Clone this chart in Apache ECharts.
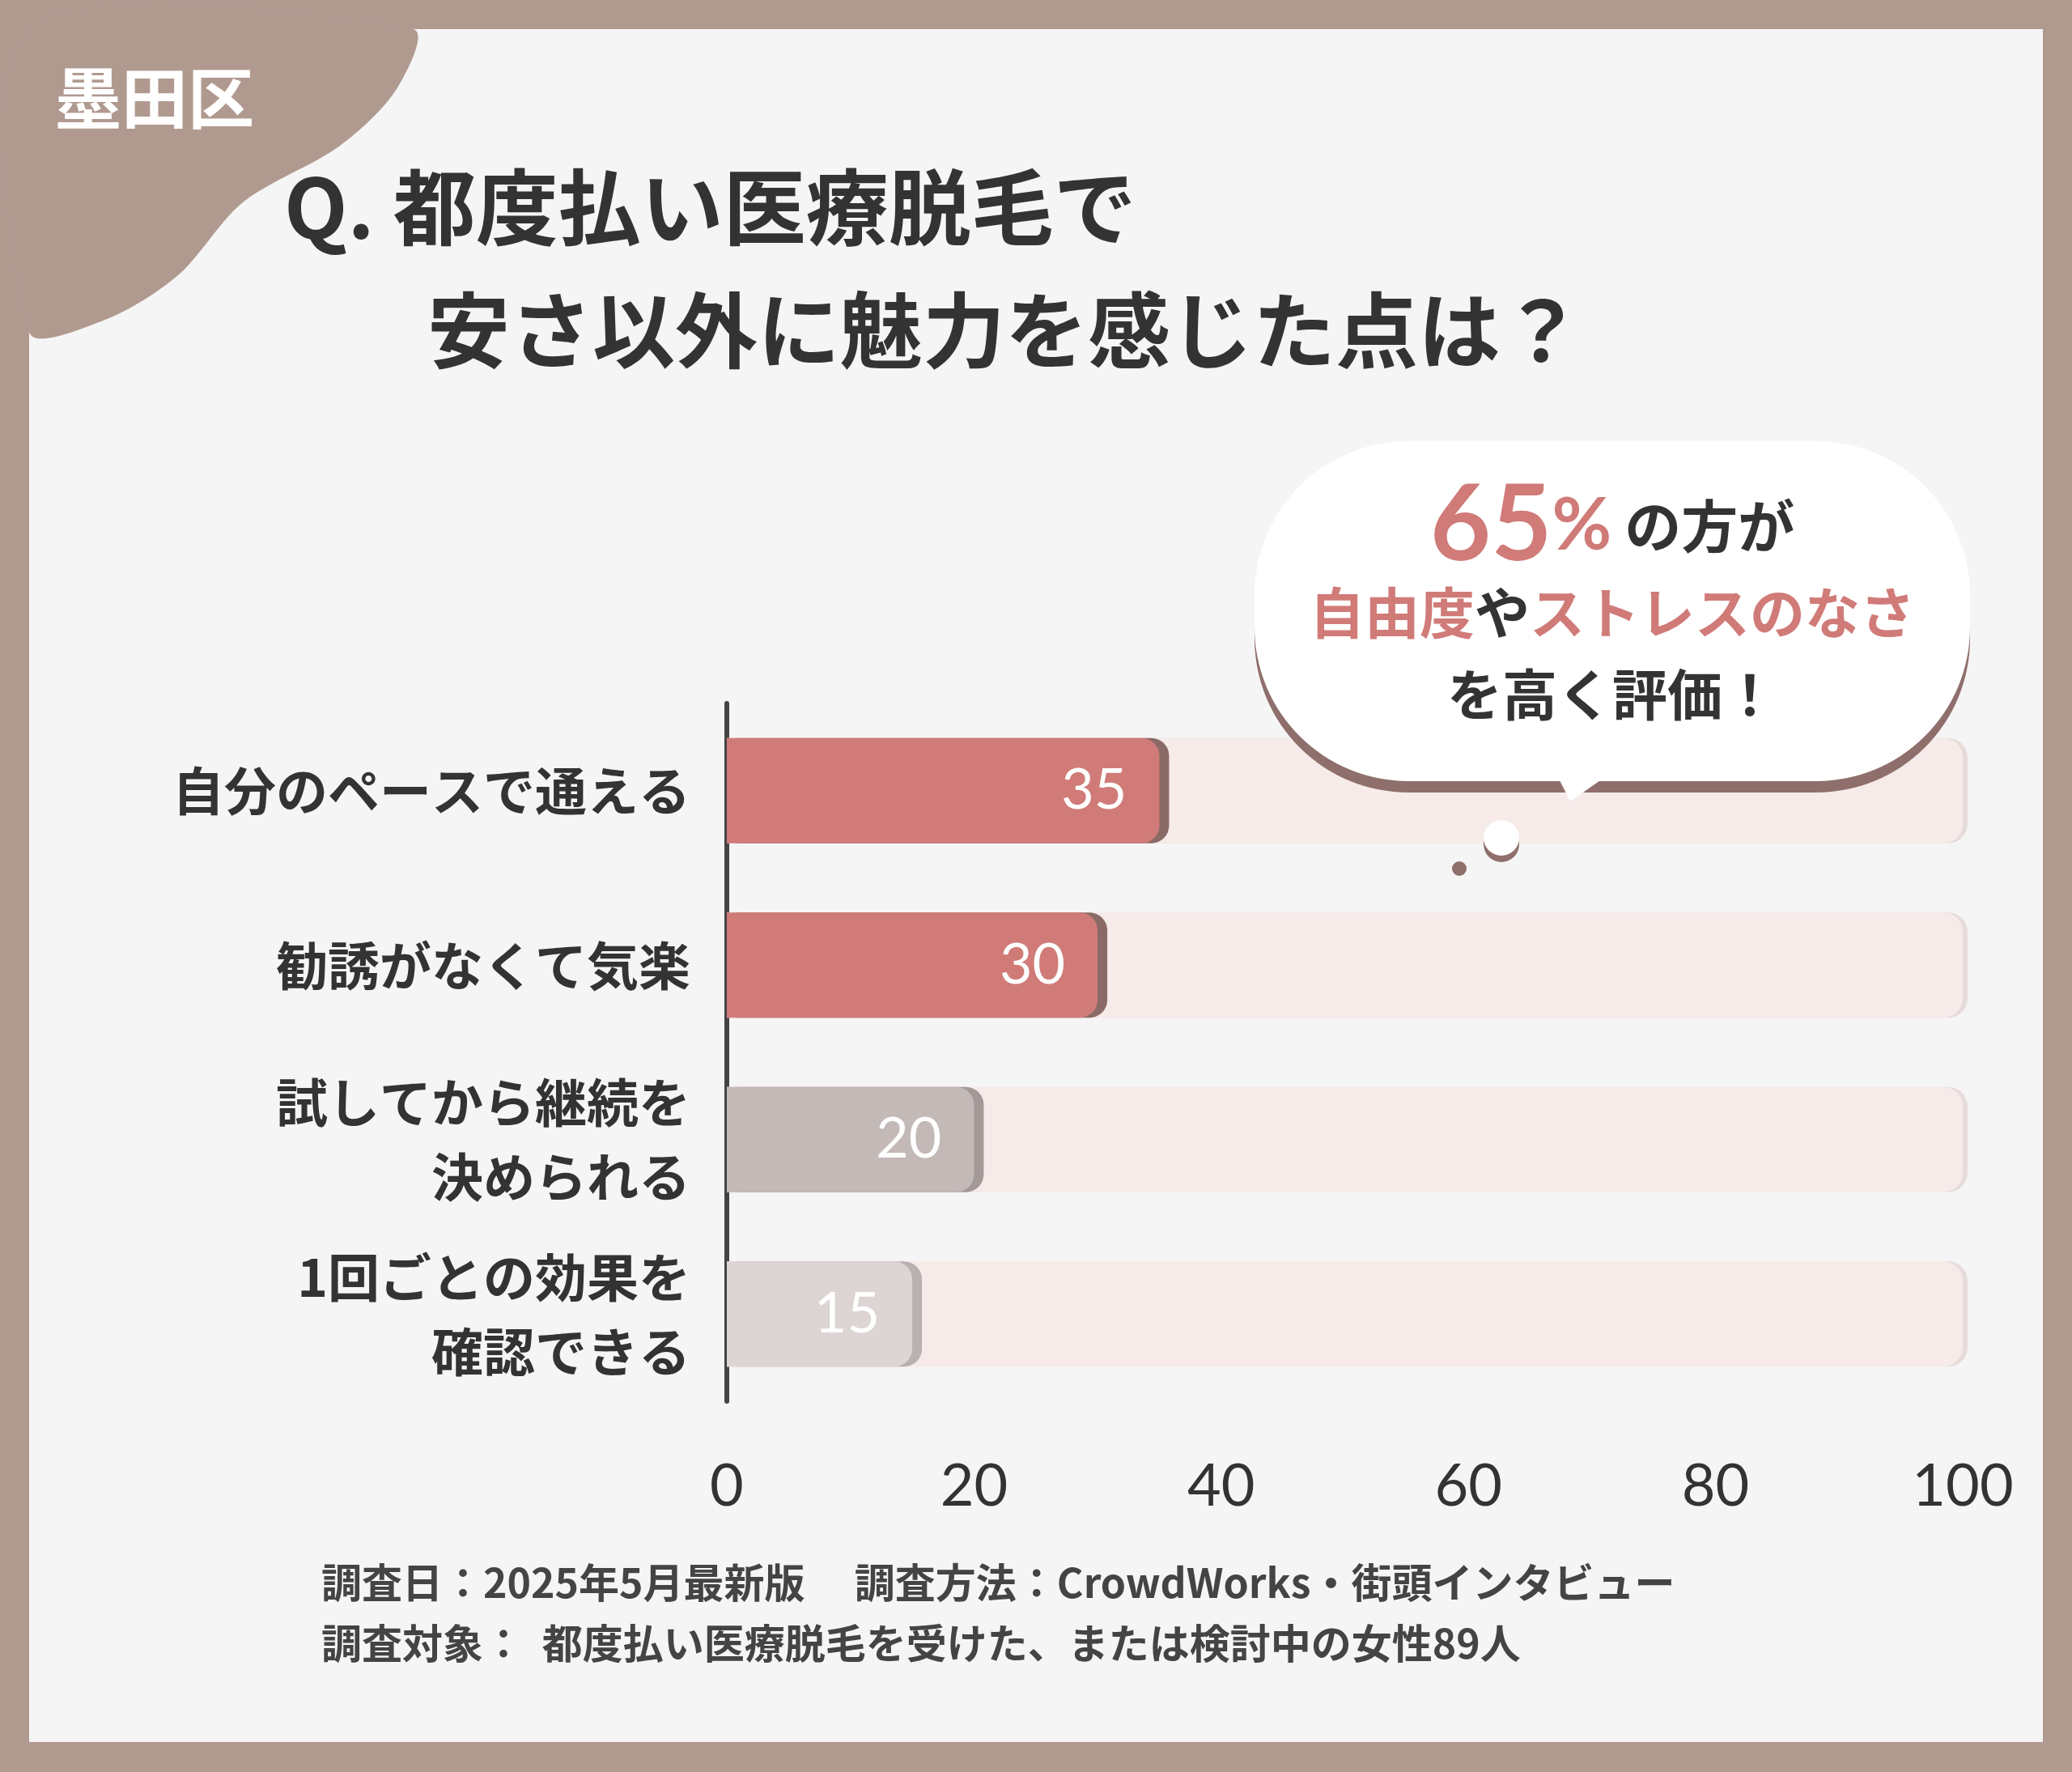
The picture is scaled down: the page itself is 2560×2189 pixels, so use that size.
<!DOCTYPE html>
<html><head><meta charset="utf-8">
<script src="https://cdn.jsdelivr.net/npm/echarts@6/dist/echarts.min.js"></script>
<style>html,body{margin:0;padding:0;background:#b09a90}#c{width:2560px;height:2189px}</style>
</head><body><div id="c"></div>
<script>
const categories = ['自分のペースで通える','勧誘がなくて気楽','試してから継続を\n決められる','1回ごとの効果を\n確認できる'];
const values = [35, 30, 20, 15];
const barColors = ['#d07b78','#d07b78','#c3b9b7','#dcd5d4'];
const edgeColors = ['#8a6a66','#8a6a66','#a39a98','#b9b1b0'];
const axisMax = 100;
const F = '"Noto Sans CJK JP", sans-serif';
const chart = echarts.init(document.getElementById('c'));
chart.setOption({
  backgroundColor: '#b09a90',
  grid: {left: 898, right: 135, top: 869, height: 862},
  xAxis: {type:'value', min:0, max:axisMax, interval:20, position:'bottom',
    axisLine:{show:false}, axisTick:{show:false}, splitLine:{show:false},
    axisLabel:{fontSize:72, color:'#333', fontFamily:'Lato, sans-serif', margin:70}},
  yAxis: {type:'category', data:categories, inverse:true,
    axisLine:{show:true, lineStyle:{color:'#444', width:6}}, axisTick:{show:false},
    axisLabel:{fontSize:64, color:'#333', fontFamily:F, margin:45, lineHeight:92, fontWeight:'bold'}},
  graphic: [
    {type:'rect', shape:{x:36,y:36,width:2488,height:2116}, style:{fill:'#f6f5f5'}, z:-10},
    {type:'polygon', shape:{points:[[36,36],[510,36],[490,110],[420,180],[300,250],[220,340],[130,395],[36,410]], smooth:0.3}, style:{fill:'#b09a90'}, z:-5},
    {type:'text', left:68, top:80, style:{text:'墨田区', fill:'#fff', font:'bold 82px '+F}},
    {type:'text', left:351, top:205, style:{text:'Q. 都度払い医療脱毛で', fill:'#333', font:'bold 102px '+F, letterSpacing:8}},
    {type:'text', left:528, top:357, style:{text:'安さ以外に魅力を感じた点は？', fill:'#333', font:'bold 102px '+F, letterSpacing:14}},
    {type:'rect', shape:{x:1550,y:545,width:884,height:420,r:190}, style:{fill:'#fff', shadowBlur:0, shadowOffsetY:14, shadowColor:'#8f6f6b'}, z:50},
    {type:'polygon', shape:{points:[[1920,950],[1940,990],[1990,955]]}, style:{fill:'#fff'}, z:51},
    {type:'circle', shape:{cx:1855,cy:1035,r:22}, style:{fill:'#fff', shadowOffsetY:8, shadowColor:'#8f6f6b'}, z:50},
    {type:'circle', shape:{cx:1803,cy:1073,r:9}, style:{fill:'#8f6f6b'}, z:50},
    {type:'text', x:1992, y:650, z:52, style:{align:'center', verticalAlign:'middle',
      text:'{b|65}{p|%}{k| の方が}', rich:{b:{fill:'#d07b78', font:'bold 130px Lato, sans-serif'}, p:{fill:'#d07b78', font:'bold 90px Lato, sans-serif'}, k:{fill:'#333', font:'bold 70px '+F}}}},
    {type:'text', x:1992, y:757, z:52, style:{align:'center', verticalAlign:'middle',
      text:'{r|自由度}{k|や}{r|ストレスのなさ}', rich:{r:{fill:'#d07b78', font:'bold 68px '+F}, k:{fill:'#333', font:'bold 68px '+F}}}},
    {type:'text', x:1992, y:858, z:52, style:{align:'center', verticalAlign:'middle', text:'を高く評価！', fill:'#333', font:'bold 68px '+F}},
    {type:'text', left:397, top:1930, style:{text:'調査日：2025年5月最新版　 調査方法：CrowdWorks・街頭インタビュー', fill:'#444', font:'bold 50px '+F}},
    {type:'text', left:397, top:2005, style:{text:'調査対象：  都度払い医療脱毛を受けた、または検討中の女性89人', fill:'#444', font:'bold 50px '+F}}
  ],
  series: [
    {type:'bar', data:values.map(()=>axisMax), barWidth:130, barGap:'-100%', silent:true,
      itemStyle:{color:'#f6ebe9', borderRadius:[0,24,24,0], shadowColor:'#e6dcda', shadowOffsetX:6}, z:1},
    {type:'bar', data:values.map((v,i)=>({value:v, itemStyle:{color:barColors[i], shadowColor:edgeColors[i], shadowOffsetX:12}})), barWidth:130,
      itemStyle:{borderRadius:[0,22,22,0]}, z:3,
      label:{show:true, position:'insideRight', distance:40, color:'#fff', fontSize:70, fontFamily:'Lato, sans-serif'}}
  ]
});
</script></body></html>
